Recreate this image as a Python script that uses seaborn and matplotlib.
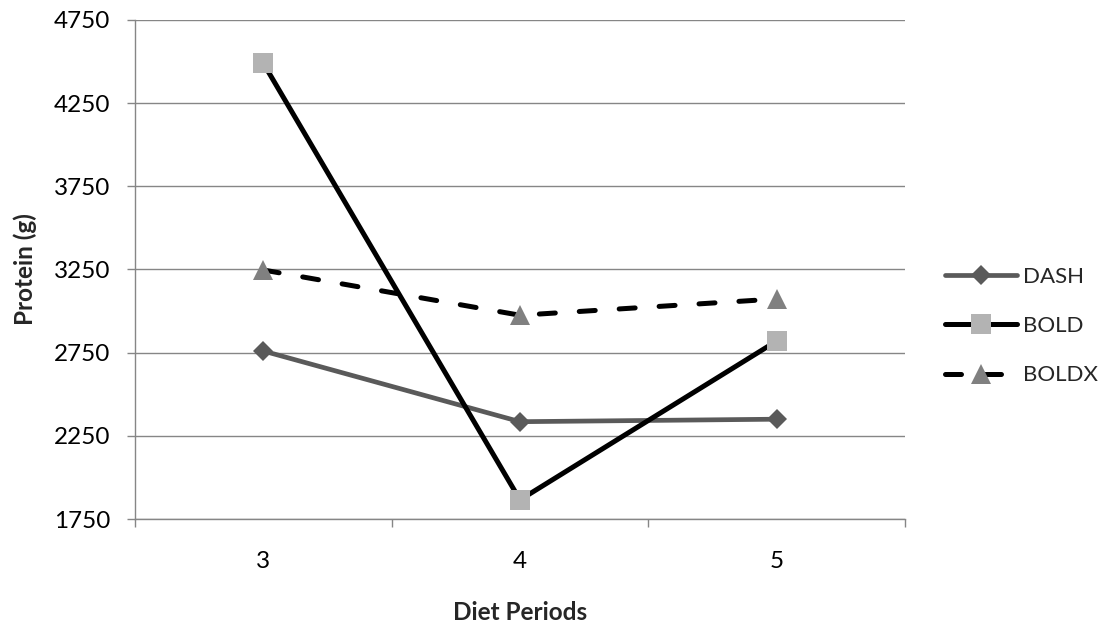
import matplotlib
matplotlib.use("Agg")
import matplotlib.pyplot as plt
import seaborn as sns
import pandas as pd

# ---- data ----
periods = [3, 4, 5]
dash_values = [2760, 2335, 2350]
bold_values = [4490, 1865, 2820]
boldx_values = [3247, 2975, 3073]
series_names = ["DASH", "BOLD", "BOLDX"]
y_ticks = [1750, 2250, 2750, 3250, 3750, 4250, 4750]
x_label = "Diet Periods"
y_label = "Protein (g)"

sns.set_style("white")
plt.rcParams["font.family"] = ["Lato", "DejaVu Sans"]

FS = 17.5
LFS = 16
GRID = "#868686"

fig = plt.figure(figsize=(10.99, 6.25), dpi=100)
ax = fig.add_axes([135 / 1099, 1 - 519 / 625, (905 - 135) / 1099, (519 - 20) / 625])

styles = {
    "DASH": dict(line="#5a5a5a", marker="D", mfc="#5a5a5a", ms=10.5, lw=3.4, dashed=False),
    "BOLD": dict(line="#000000", marker="s", mfc="#b3b3b3", ms=14.4, lw=3.6, dashed=False),
    "BOLDX": dict(line="#000000", marker="^", mfc="#808080", ms=14.4, lw=3.6, dashed=True),
}
values = {"DASH": dash_values, "BOLD": bold_values, "BOLDX": boldx_values}

handles = []
for name in series_names:
    st = styles[name]
    df = pd.DataFrame({"period": periods, "protein": values[name]})
    sns.lineplot(data=df, x="period", y="protein", ax=ax, color=st["line"],
                 marker=st["marker"], markersize=st["ms"], markerfacecolor=st["mfc"],
                 markeredgewidth=0, linewidth=st["lw"], label=name)
    ln = ax.lines[-1]
    ln.set_solid_capstyle("round")
    ln.set_solid_joinstyle("round")
    if st["dashed"]:
        ln.set_dashes([3.2, 4.8])
        ln.set_dash_capstyle("round")
    handles.append(ln)

ax.set_xlim(2.5, 5.5)
ax.set_ylim(y_ticks[0], y_ticks[-1])
ax.set_yticks(y_ticks)
ax.set_yticklabels([str(v) for v in y_ticks])
ax.set_xticks(periods)
ax.set_xticklabels([str(p) for p in periods])
ax.set_xticks([2.5, 3.5, 4.5, 5.5], minor=True)

ax.tick_params(axis="x", which="major", length=0, pad=23, labelsize=FS, labelcolor="#000000")
ax.tick_params(axis="x", which="minor", length=5.8, width=1, color=GRID, direction="out", bottom=True)
ax.tick_params(axis="y", which="major", length=5.8, width=1, color=GRID, direction="out",
               pad=12, labelsize=FS, labelcolor="#000000", left=True)

ax.yaxis.grid(True, color=GRID, linewidth=1.0)
ax.xaxis.grid(False)
ax.set_axisbelow(True)
for s in ["top", "right"]:
    ax.spines[s].set_visible(False)
for s in ["left", "bottom"]:
    ax.spines[s].set_color(GRID)
    ax.spines[s].set_linewidth(1.0)

ax.set_xlabel("")
ax.set_ylabel("")
fig.text(520 / 1099, 1 - 612 / 625, x_label, ha="center", va="center",
         fontsize=FS, fontweight="bold")
fig.text(25 / 1099, 1 - 269.5 / 625, y_label, ha="center", va="center",
         rotation=90, fontsize=FS, fontweight="bold")

leg = ax.legend(handles=handles, labels=series_names, loc="center left",
                bbox_to_anchor=(945 / 1099, 1 - 326 / 625), bbox_transform=fig.transFigure,
                frameon=False, fontsize=LFS, handlelength=3.25, handletextpad=0.25,
                labelspacing=1.32, borderpad=0, borderaxespad=0)

fig.savefig("out.png", dpi=100)
